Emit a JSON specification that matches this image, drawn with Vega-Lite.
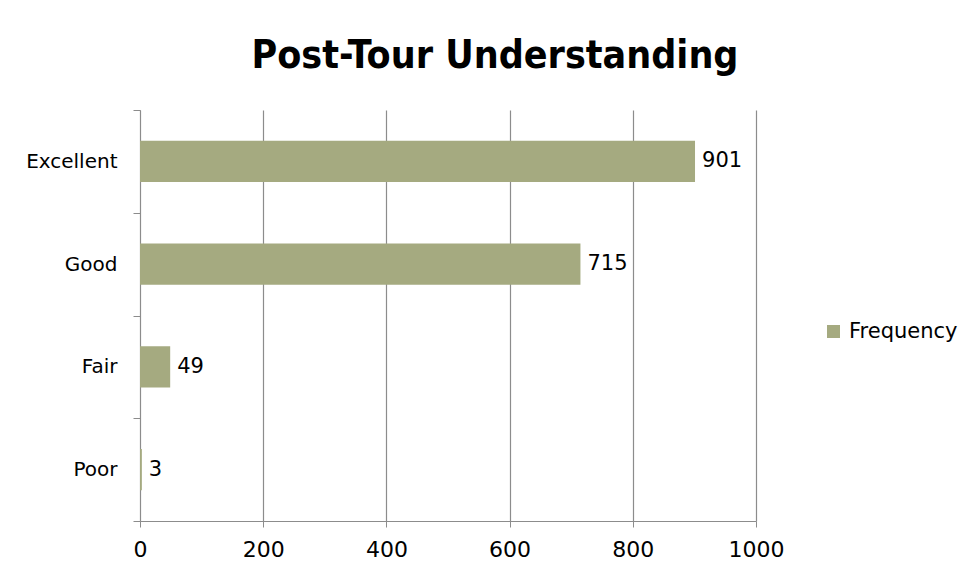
{
  "$schema": "https://vega.github.io/schema/vega-lite/v6.json",
  "width": 616,
  "height": 411,
  "autosize": {"type": "none"},
  "padding": {"left": 140, "top": 110, "right": 216, "bottom": 63},
  "background": "white",
  "title": {
    "text": "Post-Tour Understanding",
    "font": "DejaVu Sans Condensed",
    "fontSize": 39,
    "fontWeight": "bold",
    "color": "black",
    "anchor": "middle",
    "frame": "group",
    "dx": 47,
    "baseline": "alphabetic",
    "offset": -7
  },
  "data": {
    "values": [
      {"rating": "Excellent", "value": 901, "series": "Frequency"},
      {"rating": "Good", "value": 715, "series": "Frequency"},
      {"rating": "Fair", "value": 49, "series": "Frequency"},
      {"rating": "Poor", "value": 3, "series": "Frequency"}
    ]
  },
  "encoding": {
    "y": {
      "field": "rating",
      "type": "nominal",
      "sort": ["Excellent", "Good", "Fair", "Poor"],
      "scale": {"paddingInner": 0, "paddingOuter": 0},
      "axis": {
        "title": null,
        "tickBand": "extent",
        "grid": false,
        "domainColor": "#8c8c8c",
        "tickColor": "#8c8c8c",
        "tickSize": 7,
        "labelPadding": 16,
        "labelFont": "DejaVu Sans",
        "labelFontSize": 20,
        "labelColor": "black"
      }
    },
    "x": {
      "field": "value",
      "type": "quantitative",
      "scale": {"domain": [0, 1000]},
      "axis": {
        "title": null,
        "values": [0, 200, 400, 600, 800, 1000],
        "format": "d",
        "labelFlush": false,
        "grid": true,
        "gridColor": "#8c8c8c",
        "gridWidth": 1.2,
        "domainColor": "#8c8c8c",
        "tickColor": "#8c8c8c",
        "tickSize": 6,
        "labelPadding": 12,
        "labelFont": "DejaVu Sans",
        "labelFontSize": 22,
        "labelColor": "black"
      }
    }
  },
  "layer": [
    {
      "mark": {"type": "bar", "height": {"band": 0.4}},
      "encoding": {
        "color": {
          "field": "series",
          "type": "nominal",
          "scale": {"range": ["#A5AA80"]},
          "legend": {
            "title": null,
            "orient": "none",
            "legendX": 683,
            "legendY": 211,
            "symbolType": "square",
            "symbolSize": 169,
            "symbolStrokeWidth": 0,
            "labelFont": "DejaVu Sans",
            "labelFontSize": 21,
            "labelColor": "black",
            "labelOffset": 5
          }
        }
      }
    },
    {
      "mark": {
        "type": "text",
        "align": "left",
        "baseline": "middle",
        "dx": 7,
        "font": "DejaVu Sans",
        "fontSize": 21,
        "color": "black"
      },
      "encoding": {"text": {"field": "value", "type": "quantitative"}}
    }
  ],
  "config": {"view": {"stroke": null}}
}
